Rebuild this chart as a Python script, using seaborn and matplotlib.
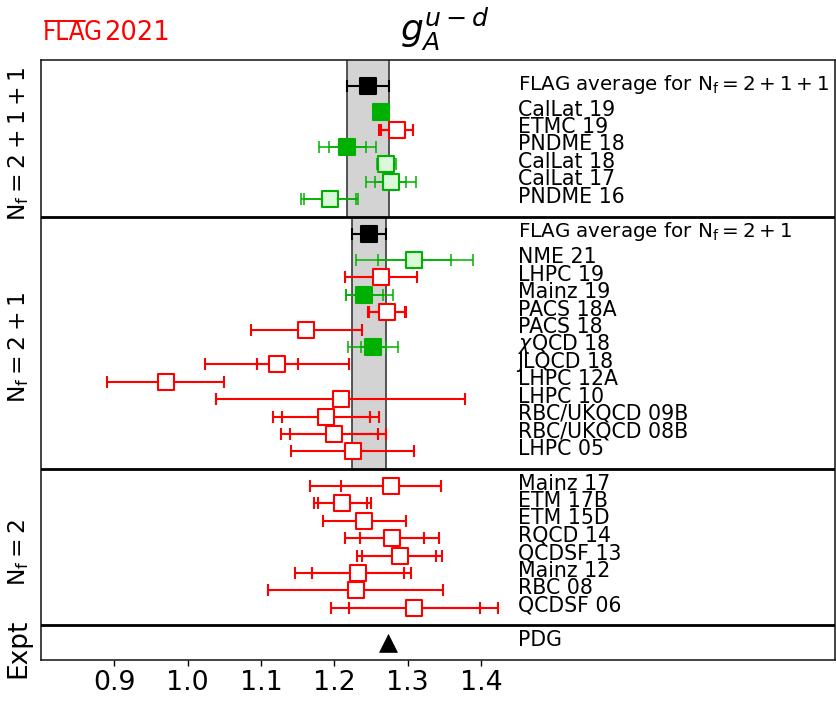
import numpy as np
import pandas as pd
import matplotlib
matplotlib.use("Agg")
import matplotlib.pyplot as plt
import matplotlib.transforms as mtransforms
from matplotlib.lines import Line2D
import seaborn as sns

# ---------------- data ----------------
title_text = r'$g_A^{u-d}$'
logo_text = 'FLAG'
logo_year = '2021'
xticks = [0.9, 1.0, 1.1, 1.2, 1.3, 1.4]
xtick_labels = ['0.9', '1.0', '1.1', '1.2', '1.3', '1.4']

# Nf = 2+1+1
label_211 = r'$\mathrm{N_f=2+1+1}$'
avg_label_211 = r'FLAG average for $\mathrm{N_f=2+1+1}$'
avg_211 = (1.246, 0.028)
names_211 = ['CalLat 19', 'ETMC 19', 'PNDME 18', 'CalLat 18', 'CalLat 17', 'PNDME 16']
vals_211 = [1.264, 1.286, 1.218, 1.271, 1.277, 1.194]
stat_lo_211 = [0.009, 0.022, 0.025, 0.011, 0.021, 0.035]
stat_hi_211 = [0.009, 0.022, 0.025, 0.011, 0.021, 0.035]
tot_lo_211 = [0.009, 0.025, 0.039, 0.013, 0.034, 0.039]
tot_hi_211 = [0.009, 0.022, 0.039, 0.013, 0.034, 0.039]
style_211 = ['gf', 'ro', 'gf', 'gl', 'gl', 'gl']

# Nf = 2+1
label_21 = r'$\mathrm{N_f=2+1}$'
avg_label_21 = r'FLAG average for $\mathrm{N_f=2+1}$'
avg_21 = (1.247, 0.023)
names_21 = ['NME 21', 'LHPC 19', 'Mainz 19', 'PACS 18A', 'PACS 18', r'$\chi$QCD 18',
            'JLQCD 18', 'LHPC 12A', 'LHPC 10', 'RBC/UKQCD 09B', 'RBC/UKQCD 08B', 'LHPC 05']
vals_21 = [1.309, 1.264, 1.241, 1.272, 1.162, 1.253, 1.122, 0.970, 1.209, 1.189, 1.199, 1.225]
stat_lo_21 = [0.050, 0.049, 0.025, 0.024, 0.076, 0.016, 0.027, 0.080, 0.170, 0.060, 0.060, 0.084]
stat_hi_21 = [0.050, 0.049, 0.025, 0.024, 0.076, 0.017, 0.028, 0.080, 0.170, 0.060, 0.060, 0.084]
tot_lo_21 = [0.080, 0.049, 0.025, 0.026, 0.076, 0.034, 0.098, 0.080, 0.170, 0.072, 0.072, 0.084]
tot_hi_21 = [0.080, 0.049, 0.039, 0.026, 0.076, 0.034, 0.098, 0.080, 0.170, 0.072, 0.072, 0.084]
style_21 = ['gl', 'ro', 'gf', 'ro', 'ro', 'gf', 'ro', 'ro', 'ro', 'ro', 'ro', 'ro']

# Nf = 2
label_2 = r'$\mathrm{N_f=2}$'
names_2 = ['Mainz 17', 'ETM 17B', 'ETM 15D', 'RQCD 14', 'QCDSF 13', 'Mainz 12', 'RBC 08', 'QCDSF 06']
vals_2 = [1.277, 1.211, 1.241, 1.279, 1.289, 1.232, 1.229, 1.309]
stat_lo_2 = [0.068, 0.033, 0.057, 0.044, 0.051, 0.063, 0.120, 0.089]
stat_hi_2 = [0.068, 0.033, 0.057, 0.044, 0.050, 0.063, 0.120, 0.090]
tot_lo_2 = [0.110, 0.039, 0.057, 0.064, 0.058, 0.086, 0.120, 0.114]
tot_hi_2 = [0.068, 0.039, 0.057, 0.064, 0.058, 0.072, 0.120, 0.114]
style_2 = ['ro', 'ro', 'ro', 'ro', 'ro', 'ro', 'ro', 'ro']

# Experiment
label_exp = 'Expt'
names_exp = ['PDG']
vals_exp = [1.273]

# ---------------- styling ----------------
GREEN = '#00b000'
LIGHTGREEN = '#d9f9d9'
RED = '#ff0000'
STYLES = {
    'gf': dict(face=GREEN, edge=GREEN, ecol=GREEN, elw=1.1),
    'gl': dict(face=LIGHTGREEN, edge=GREEN, ecol=GREEN, elw=1.1),
    'ro': dict(face='white', edge=RED, ecol=RED, elw=1.5),
    'avg': dict(face='black', edge='black', ecol='black', elw=1.5),
}

sns.set_theme(style="white")
plt.rcParams['font.family'] = ['DejaVu Sans']
plt.rcParams['mathtext.fontset'] = 'dejavusans'
plt.rcParams['text.color'] = 'black'
plt.rcParams['axes.labelcolor'] = 'black'
plt.rcParams['xtick.color'] = 'black'

fig = plt.figure(figsize=(8.37, 7.02), dpi=100)
ax = fig.add_axes([41 / 837, 1 - 660 / 702, 794 / 837, 600 / 702])

sections = [
    dict(label=label_211, avg=avg_211, avg_label=avg_label_211, names=names_211, vals=vals_211,
         slo=stat_lo_211, shi=stat_hi_211, tlo=tot_lo_211, thi=tot_hi_211, styles=style_211, lfs=16.8),
    dict(label=label_21, avg=avg_21, avg_label=avg_label_21, names=names_21, vals=vals_21,
         slo=stat_lo_21, shi=stat_hi_21, tlo=tot_lo_21, thi=tot_hi_21, styles=style_21, lfs=16.8),
    dict(label=label_2, avg=None, names=names_2, vals=vals_2,
         slo=stat_lo_2, shi=stat_hi_2, tlo=tot_lo_2, thi=tot_hi_2, styles=style_2, lfs=16.8),
    dict(label=label_exp, avg=None, names=names_exp, vals=vals_exp,
         slo=None, shi=None, tlo=None, thi=None, styles=['exp'], lfs=19),
]

LABEL_X = 1.45
LABEL_FS = 14.8
AVG_FS = 14.3
points = []
cursor = 0.5
top = 0.0
blend = mtransforms.blended_transform_factory(ax.transAxes, ax.transData)
for si, sec in enumerate(sections):
    y = cursor + 1
    if sec['avg'] is not None:
        a, e = sec['avg']
        st = STYLES['avg']
        ax.errorbar(a, y, xerr=e, fmt='none', ecolor=st['ecol'], elinewidth=st['elw'],
                    capsize=4.5, capthick=st['elw'], zorder=3)
        points.append(dict(value=a, y=y, style='avg'))
        ax.text(LABEL_X, y + 0.2, sec['avg_label'], ha='left', va='baseline', fontsize=AVG_FS)
        y += 1.5
    for i, name in enumerate(sec['names']):
        v = sec['vals'][i]
        sty = sec['styles'][i]
        if sty != 'exp':
            st = STYLES[sty]
            ax.errorbar(v, y, xerr=[[sec['tlo'][i]], [sec['thi'][i]]], fmt='none',
                        ecolor=st['ecol'], elinewidth=st['elw'], capsize=4,
                        capthick=st['elw'], zorder=3)
            if (sec['slo'][i], sec['shi'][i]) != (sec['tlo'][i], sec['thi'][i]):
                ax.errorbar(v, y, xerr=[[sec['slo'][i]], [sec['shi'][i]]], fmt='none',
                            ecolor=st['ecol'], elinewidth=st['elw'], capsize=4,
                            capthick=st['elw'], zorder=3)
        points.append(dict(value=v, y=y, style=sty))
        ax.text(LABEL_X, y + 0.2, name, ha='left', va='baseline', fontsize=LABEL_FS)
        y += 1
    bottom = y
    if sec['avg'] is not None:
        a, e = sec['avg']
        ax.fill_betweenx([top, bottom], a - e, a + e, facecolor='#d3d3d3', linewidth=0, zorder=1)
        ax.vlines([a - e, a + e], top, bottom, colors='#3a3a3a', linewidth=1.2, zorder=2)
    if si < len(sections) - 1:
        ax.axhline(bottom, color='black', linewidth=2.0, zorder=4)
    ax.text(-0.012, (top + bottom) / 2 + 0.3, sec['label'], transform=blend, rotation=90,
            ha='right', va='center', fontsize=sec['lfs'])
    top = bottom
    cursor = bottom

df = pd.DataFrame(points)
for sty, grp in df.groupby('style'):
    if sty == 'exp':
        sns.scatterplot(data=grp, x='value', y='y', marker='^', s=165, color='black',
                        edgecolor='black', linewidth=0.5, zorder=5, ax=ax, legend=False)
    else:
        st = STYLES[sty]
        sns.scatterplot(data=grp, x='value', y='y', marker='s', s=135, color=st['face'],
                        edgecolor=st['edge'], linewidth=1.5, zorder=5, ax=ax, legend=False)

ax.set_xlim(0.8, 1.883)
ax.set_ylim(top, 0)
ax.set_xticks(xticks)
ax.set_xticklabels(xtick_labels)
ax.set_yticks([])
ax.set_xlabel('')
ax.set_ylabel('')
ax.tick_params(axis='x', direction='out', length=4, width=1.0, labelsize=19.3, pad=3.5,
               bottom=True, colors='black')
for sp in ax.spines.values():
    sp.set_color('#222222')
    sp.set_linewidth(1.2)

ax.set_title(title_text, fontsize=26, pad=14, x=0.509, color='black')

# FLAG logo
renderer = fig.canvas.get_renderer()
LOGO_FS = 18.5
base_y = 1 - 39.5 / 702
t1 = fig.text(43 / 837, base_y, logo_text, color=RED, fontsize=LOGO_FS, ha='left',
              va='baseline', fontstretch='condensed')
tmp = fig.text(43 / 837, base_y, logo_text[:3], color='none', fontsize=LOGO_FS, ha='left',
               va='baseline', fontstretch='condensed')
bb1 = t1.get_window_extent(renderer)
bbA = tmp.get_window_extent(renderer)
tmp.remove()
cap_px = 0.729 * LOGO_FS * 100 / 72
base_px = 702 - 39.5
fig.add_artist(Line2D([bbA.x0 / 837 + 0.002, bbA.x1 / 837 - 0.001],
                      [(base_px + cap_px - 0.5) / 702] * 2,
                      color=RED, linewidth=1.4, transform=fig.transFigure))
fig.text(bb1.x1 / 837 + 1 / 837, base_y, logo_year, color=RED, fontsize=LOGO_FS,
         ha='left', va='baseline')

fig.savefig('out.png', dpi=100)
